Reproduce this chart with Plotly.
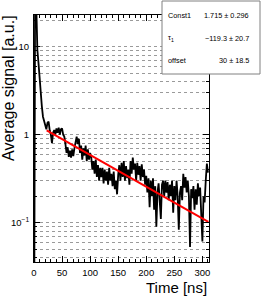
import plotly.graph_objects as go

# ---- data ----
time_ns = list(range(0, 312, 2))
signal = [
    # t = 0 .. 18
    0.001, 50, 30, 9.2, 6.5, 4.2, 2.7, 2.1, 1.6, 1.4,
    # t = 20 .. 52
    1.25, 1.15, 1.36, 1.41, 1.12, 1.0, 0.8, 1.05, 1.13, 1.0,
    1.18, 1.05, 1.2, 1.0, 1.15, 1.18, 1.0,
    # t = 54 .. 72
    0.95, 0.78, 0.62, 0.72, 0.56, 0.66, 0.55, 0.68, 0.57, 0.7,
    # t = 74 .. 80
    0.8, 0.95, 0.78, 0.9,
    # t = 82 .. 100
    0.62, 0.75, 0.52, 0.7, 0.58, 0.75, 0.5, 0.68, 0.52, 0.62,
    # t = 102 .. 120
    0.55, 0.4, 0.5, 0.36, 0.52, 0.33, 0.45, 0.3, 0.42, 0.33,
    # t = 122 .. 150
    0.42, 0.28, 0.4, 0.3, 0.38, 0.27, 0.42, 0.3, 0.36, 0.26,
    0.38, 0.24, 0.3, 0.21, 0.35,
    # t = 152 .. 170
    0.45, 0.3, 0.48, 0.33, 0.5, 0.3, 0.44, 0.32, 0.4, 0.27,
    # t = 172 .. 200
    0.5, 0.36, 0.55, 0.4, 0.47, 0.3, 0.48, 0.35, 0.44, 0.3,
    0.46, 0.33, 0.4, 0.27, 0.34,
    # t = 202 .. 230
    0.22, 0.32, 0.15, 0.3, 0.2, 0.32, 0.14, 0.26, 0.09, 0.22,
    0.28, 0.15, 0.11, 0.27, 0.3,
    # t = 232 .. 260
    0.2, 0.3, 0.22, 0.29, 0.18, 0.27, 0.2, 0.3, 0.13, 0.26,
    0.18, 0.3, 0.2, 0.083, 0.22,
    # t = 262 .. 290
    0.26, 0.18, 0.36, 0.25, 0.33, 0.22, 0.3, 0.2, 0.053, 0.24,
    0.19, 0.26, 0.14, 0.24, 0.16,
    # t = 292 .. 310
    0.28, 0.2, 0.25, 0.12, 0.061, 0.2, 0.17, 0.3, 0.47, 0.37,
]
assert len(signal) == len(time_ns)

fit_time = [22.6, 310.7]
fit_value = [1.12, 0.102]

x_ticks = [0, 50, 100, 150, 200, 250, 300]
y_major = [0.1, 1, 10]
y_major_text = ["10<sup>−1</sup>", "1", "10"]
y_minor = [0.04, 0.05, 0.06, 0.07, 0.08, 0.09,
           0.2, 0.3, 0.4, 0.5, 0.6, 0.7, 0.8, 0.9,
           2, 3, 4, 5, 6, 7, 8, 9, 20]

stat_names = ["Const1", "τ<sub>1</sub>", "offset"]
stat_values = ["1.715 ± 0.296", "−119.3 ± 20.7", "30 ± 18.5"]

# ---- layout geometry (pixels) ----
W, H = 262, 302
ML, MR, MT, MB = 34, 53, 15, 40
PW, PH = W - ML - MR, H - MT - MB


def px(x):
    return (x - ML) / PW


def py(y):
    return (H - MB - y) / PH


FONT = "Liberation Sans, Arial, Helvetica, sans-serif"

fig = go.Figure()
fig.add_trace(go.Scatter(x=time_ns, y=signal, mode="lines",
                         line=dict(color="black", width=1.8),
                         hoverinfo="skip", showlegend=False))
fig.add_trace(go.Scatter(x=fit_time, y=fit_value, mode="lines",
                         line=dict(color="#ff0000", width=2),
                         hoverinfo="skip", showlegend=False))

fig.update_layout(
    width=W, height=H,
    margin=dict(l=ML, r=MR, t=MT, b=MB, pad=0),
    paper_bgcolor="white", plot_bgcolor="white",
    font=dict(family=FONT, color="black", size=9),
    showlegend=False,
)

fig.update_xaxes(
    range=[0, 311.8], tickvals=x_ticks, ticks="inside", ticklen=6,
    tickwidth=1, tickcolor="black", showline=True, linecolor="black",
    linewidth=1, mirror="ticks", showgrid=False, zeroline=False,
    tickfont=dict(size=9.5), ticklabelstandoff=2, automargin=False,
    minor=dict(dtick=10, tick0=0, ticks="inside", ticklen=3,
               tickcolor="black", showgrid=False),
)
fig.update_yaxes(
    type="log", range=[-1.447, 1.36], tickvals=y_major,
    ticktext=y_major_text, ticks="inside", ticklen=6, tickwidth=1,
    tickcolor="black", showline=True, linecolor="black", linewidth=1,
    mirror="ticks", showgrid=True, gridcolor="#9a9a9a", griddash="dot",
    gridwidth=1, zeroline=False, tickfont=dict(size=9.5),
    ticklabelstandoff=2, automargin=False,
    minor=dict(tickvals=y_minor, ticks="inside", ticklen=3,
               tickcolor="black", showgrid=True, gridcolor="#9a9a9a",
               griddash="dot", gridwidth=1),
)

# axis titles
fig.add_annotation(text="Time [ns]", xref="paper", yref="paper",
                   x=1, y=0, xanchor="right", yanchor="top", yshift=-15,
                   showarrow=False, font=dict(size=15))
fig.add_annotation(text="Average signal [a.u.]", xref="paper",
                   yref="paper", x=px(8), y=1, xanchor="center",
                   yanchor="top", yshift=2, textangle=-90,
                   showarrow=False, font=dict(size=16))

# stats box
fig.add_shape(type="rect", xref="paper", yref="paper",
              x0=px(162), x1=px(260), y0=py(74), y1=py(1),
              fillcolor="white", line=dict(color="#808080", width=1),
              layer="above")
row_y = [15, 38, 61]
for name, val, ry in zip(stat_names, stat_values, row_y):
    fig.add_annotation(text=name, xref="paper", yref="paper",
                       x=px(166), y=py(ry), xanchor="left",
                       yanchor="middle", showarrow=False,
                       font=dict(size=7.3, color="black"))
    fig.add_annotation(text=val, xref="paper", yref="paper",
                       x=px(251), y=py(ry), xanchor="right",
                       yanchor="middle", showarrow=False,
                       font=dict(size=7.3, color="black"))

fig.write_html(
    "out.html",
    config={"displayModeBar": False, "staticPlot": True},
    post_script="document.body.style.margin='0';"
                "document.body.style.padding='0';",
)
